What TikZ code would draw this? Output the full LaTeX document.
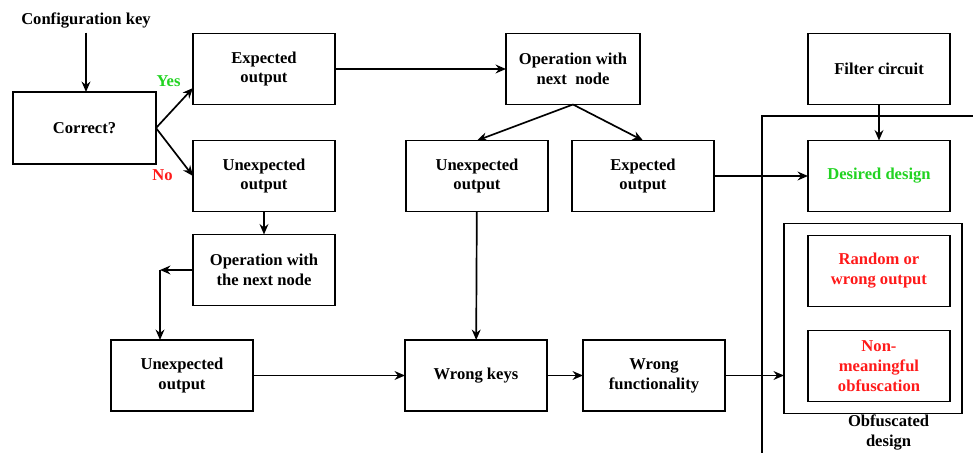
\documentclass[tikz,border=0pt]{standalone}
\usepackage{fontspec}
\setmainfont{Liberation Serif}
\usepackage{xcolor}
\usetikzlibrary{arrows.meta, positioning, fit, calc}
\definecolor{yesgreen}{HTML}{22D322}
\definecolor{nored}{HTML}{FF1A1A}

\begin{document}
\begin{tikzpicture}[node distance=0.9cm and 1.775cm,
  box/.style={rectangle, draw, line width=1.2pt, minimum width=3.55cm, minimum height=1.775cm,
    align=center, font=\fontsize{11.8}{14.2}\selectfont\bfseries, inner sep=2pt, outer sep=0pt},
  txt/.style={align=center, font=\fontsize{11.8}{14.2}\selectfont\bfseries},
  arr/.style={-{Stealth[length=2.6mm, width=2.2mm]}, line width=1.2pt},
  frame/.style={line width=1.2pt}]

  \useasboundingbox (0,0) rectangle (24.325,-11.325);

  % left column
  \node[txt] (cfg) at (2.15,-0.5) {Configuration key};
  \node[box, minimum width=3.575cm, minimum height=1.8cm] (correct) at (2.1125,-3.2) {Correct?};
  \node[box] (exp1) at (6.6,-1.725) {Expected\\output};
  \node[box, below=0.9cm of exp1] (unexp1) {Unexpected\\output};
  \node[box, below=0.575cm of unexp1] (op1) {Operation with\\the next node};
  \node[box] (unexp3) at (4.55,-9.3875) {Unexpected\\output};
  \coordinate[left=0.825cm of op1.west] (turn);

  % middle
  \node[box, minimum width=3.35cm, right=4.275cm of exp1] (op2) {Operation with\\next~~node};
  \node[box, right=of unexp1] (unexp2) {Unexpected\\output};
  \node[box, right=0.6cm of unexp2] (exp2) {Expected\\output};
  \node[box, right=3.8cm of unexp3] (keys) {Wrong keys};
  \node[box, right=0.9cm of keys] (func) {Wrong\\functionality};

  % obfuscated design
  \node[box, right=2.35cm of exp2, text=yesgreen] (desired) {Desired design};
  \node[box, above=0.9cm of desired] (filter) {Filter circuit};
  \node[box, below=0.6cm of desired, text=nored] (random) {Random or\\wrong output};
  \node[box, below=0.6cm of random, text=nored] (nonmean) {Non-\\meaningful\\obfuscation};
  \node[draw, frame, inner sep=0pt, outer sep=0pt,
    fit={($(random.north west)+(-0.6,0.3)$) ($(nonmean.south east)+(0.3,-0.3)$)}] (obfbox) {};
  \node[txt, below=-0.08cm of obfbox.south, xshift=0.39cm] (obflbl) {Obfuscated\\design};
  \coordinate (frametop) at (24.4,-2.9);
  \coordinate (framebot) at (19.05,-11.4);
  \draw[frame] (frametop) -| (framebot);

  \draw[arr] (cfg.south) -- (cfg.south |- correct.north);
  \draw[arr] (correct.east) -- ([yshift=-0.475cm]exp1.west)
    node[midway, above=0.4cm, xshift=-0.15cm, font=\fontsize{11.8}{14.2}\selectfont\bfseries, text=yesgreen] {Yes};
  \draw[arr] (correct.east) -- (unexp1.west)
    node[midway, below=0.3cm, xshift=-0.3cm, font=\fontsize{11.8}{14.2}\selectfont\bfseries, text=nored] {No};
  \draw[arr] (exp1) -- (op2);
  \draw[arr] (unexp1) -- (op1);
  \draw[arr] (op1.west) -- (turn);
  \draw[arr] (turn) -- (turn |- unexp3.north);
  \draw[arr] (unexp3) -- (keys);
  \draw[arr] (keys) -- (func);
  \draw[arr] (func.east) -- (func.east -| obfbox.west);
  \draw[arr] (op2.south) -- (unexp2.north);
  \draw[arr] (op2.south) -- (exp2.north);
  \draw[arr] (unexp2) -- (keys);
  \draw[arr] (exp2) -- (desired);
  \draw[arr] (filter) -- (desired);
\end{tikzpicture}
\end{document}
